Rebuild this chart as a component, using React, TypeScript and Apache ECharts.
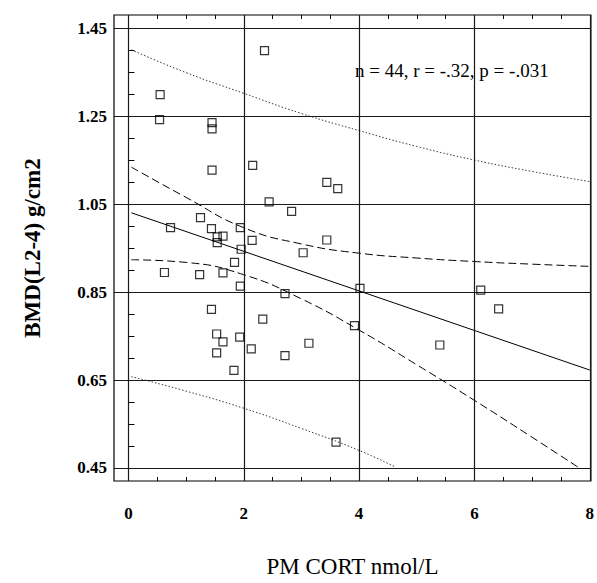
import React, { useEffect, useRef } from "react";
import * as echarts from "echarts";

// PM CORT (nmol/L) vs BMD(L2-4) g/cm2
const points: [number, number][] = [
  [2.36, 1.4], [0.55, 1.3], [0.54, 1.243], [1.45, 1.236], [1.45, 1.222],
  [1.45, 1.128], [2.155, 1.139], [2.44, 1.056], [2.83, 1.034], [1.25, 1.02],
  [0.73, 0.997], [1.44, 0.995], [1.94, 0.997], [1.54, 0.976], [1.64, 0.978],
  [1.54, 0.963], [2.145, 0.968], [1.955, 0.948], [1.84, 0.918], [0.625, 0.895],
  [1.235, 0.89], [1.64, 0.894], [1.94, 0.864], [2.715, 0.847], [1.44, 0.811],
  [3.44, 1.1], [3.63, 1.086], [3.44, 0.969], [3.03, 0.94], [4.015, 0.859],
  [2.33, 0.789], [1.53, 0.755], [1.64, 0.737], [1.93, 0.748], [2.13, 0.721],
  [2.715, 0.706], [1.53, 0.712], [1.83, 0.672], [3.92, 0.774], [3.13, 0.734],
  [5.4, 0.73], [3.6, 0.509], [6.11, 0.855], [6.42, 0.812],
];

const fitLine: [number, number][] = [[0.05, 1.031], [8, 0.673]];
const ciUpper: [number, number][] = [
  [0.05, 1.135], [1, 1.066], [2, 0.997], [3, 0.96], [4, 0.939],
  [5, 0.928], [6, 0.92], [7, 0.914], [8, 0.909],
];
const ciLower: [number, number][] = [
  [0.05, 0.924], [1, 0.918], [2, 0.89], [3, 0.835], [4, 0.764],
  [5, 0.685], [6, 0.604], [7, 0.52], [7.82, 0.45],
];
const piUpper: [number, number][] = [
  [0.05, 1.402], [1, 1.35], [2, 1.303], [3, 1.257], [4, 1.218],
  [5, 1.182], [6, 1.151], [7, 1.125], [8, 1.102],
];
const piLower: [number, number][] = [
  [0.05, 0.658], [1, 0.625], [2, 0.586], [3, 0.54], [4, 0.49], [4.63, 0.452],
];

const xLabels = [0, 2, 4, 6, 8];
const xMinorTicks = [0, 0.5, 1, 1.5, 2, 2.5, 3, 3.5, 4, 4.5, 5, 5.5, 6, 6.5, 7, 7.5, 8];
const yLabels = [0.45, 0.65, 0.85, 1.05, 1.25, 1.45];
const yMinorTicks = [
  0.45, 0.5, 0.55, 0.6, 0.65, 0.7, 0.75, 0.8, 0.85, 0.9, 0.95, 1.0,
  1.05, 1.1, 1.15, 1.2, 1.25, 1.3, 1.35, 1.4, 1.45,
];
const annotation = "n = 44, r = -.32, p = -.031";

const SERIF = "'Liberation Serif', 'Times New Roman', serif";

export default function App() {
  const ref = useRef<HTMLDivElement>(null);
  useEffect(() => {
    if (!ref.current) return;
    const chart = echarts.init(ref.current, null, { renderer: "svg" });
    const gridLines = [
      ...xLabels.map((v) => ({ xAxis: v })),
      ...yLabels.map((v) => ({ yAxis: v })),
    ];
    chart.setOption({
      animation: false,
      backgroundColor: "#fff",
      grid: {
        left: 114,
        top: 15,
        width: 479,
        height: 476,
        show: true,
        borderColor: "#000",
        borderWidth: 1.2,
        backgroundColor: "transparent",
      },
      xAxis: [
        {
          type: "value",
          min: -0.25,
          max: 8.02,
          position: "bottom",
          axisLine: { show: false },
          splitLine: { show: false },
          axisTick: {
            show: true,
            inside: true,
            length: 4,
            customValues: xMinorTicks,
            lineStyle: { color: "#000", width: 1 },
          },
          axisLabel: {
            customValues: xLabels,
            margin: 24,
            fontFamily: SERIF,
            fontWeight: "bold",
            fontSize: 17,
            color: "#000",
          },
          name: "PM CORT nmol/L",
          nameLocation: "middle",
          nameGap: 74,
          nameTextStyle: { fontFamily: SERIF, fontSize: 23, color: "#000" },
        },
        {
          type: "value",
          min: -0.25,
          max: 8.02,
          position: "top",
          axisLine: { show: false },
          splitLine: { show: false },
          axisTick: {
            show: true,
            inside: true,
            length: 4,
            customValues: xMinorTicks,
            lineStyle: { color: "#000", width: 1 },
          },
          axisLabel: { show: false },
        },
      ],
      yAxis: [
        {
          type: "value",
          min: 0.4204,
          max: 1.4812,
          axisLine: { show: false },
          splitLine: { show: false },
          axisTick: {
            show: true,
            inside: true,
            length: 6,
            customValues: yMinorTicks,
            lineStyle: { color: "#000", width: 1 },
          },
          axisLabel: {
            customValues: yLabels,
            margin: 7,
            fontFamily: SERIF,
            fontWeight: "bold",
            fontSize: 17,
            color: "#000",
            formatter: (v: number) => v.toFixed(2),
          },
          name: "BMD(L2-4) g/cm2",
          nameLocation: "middle",
          nameGap: 70,
          nameTextStyle: {
            fontFamily: SERIF,
            fontWeight: "bold",
            fontSize: 23,
            color: "#000",
          },
        },
      ],
      graphic: [
        {
          type: "text",
          left: 355,
          top: 61,
          style: {
            text: annotation,
            font: `19px ${SERIF}`,
            fill: "#000",
          },
        },
      ],
      series: [
        {
          type: "scatter",
          data: points,
          symbol: "rect",
          symbolSize: 8,
          itemStyle: { color: "transparent", borderColor: "#000", borderWidth: 1.2 },
          z: 5,
          silent: true,
          markLine: {
            silent: true,
            symbol: ["none", "none"],
            label: { show: false },
            lineStyle: { color: "#1a1a1a", width: 1.2, type: "solid" },
            data: gridLines,
          },
        },
        {
          type: "line",
          data: fitLine,
          showSymbol: false,
          lineStyle: { color: "#000", width: 1, type: "solid" },
          silent: true,
        },
        {
          type: "line",
          data: ciUpper,
          smooth: true,
          showSymbol: false,
          lineStyle: { color: "#000", width: 1, type: [8, 4] },
          silent: true,
        },
        {
          type: "line",
          data: ciLower,
          smooth: true,
          showSymbol: false,
          lineStyle: { color: "#000", width: 1, type: [8, 4] },
          silent: true,
        },
        {
          type: "line",
          data: piUpper,
          smooth: true,
          showSymbol: false,
          lineStyle: { color: "#222", width: 0.9, type: [1.5, 2] },
          silent: true,
        },
        {
          type: "line",
          data: piLower,
          smooth: true,
          showSymbol: false,
          lineStyle: { color: "#222", width: 0.9, type: [1.5, 2] },
          silent: true,
        },
      ],
    });
    return () => chart.dispose();
  }, []);
  return (
    <div
      ref={ref}
      style={{ position: "fixed", left: 0, top: 0, width: 597, height: 583 }}
    />
  );
}
